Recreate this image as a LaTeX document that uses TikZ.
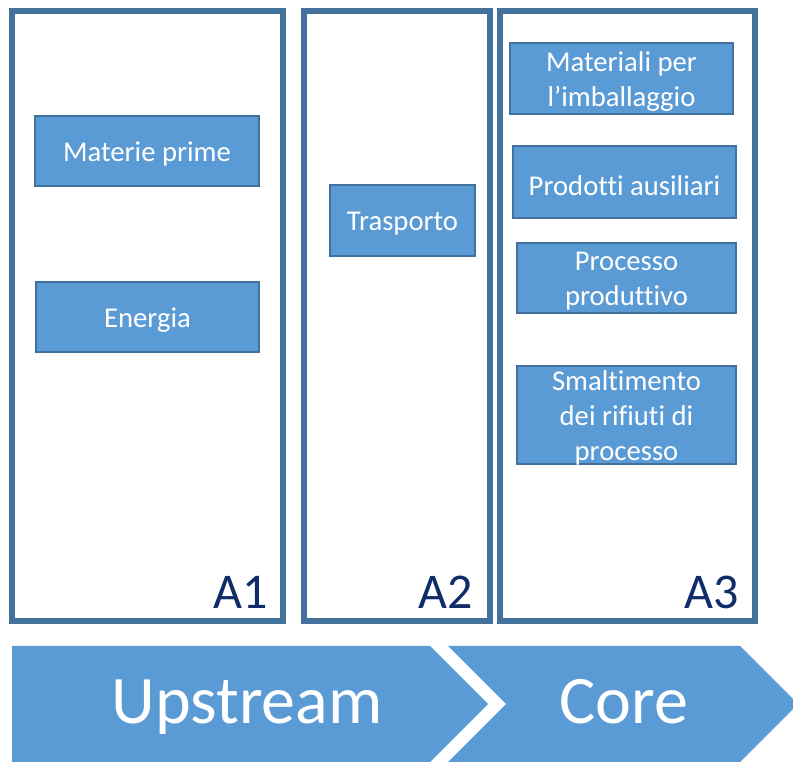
\documentclass[tikz,border=0pt]{standalone}
\usepackage{fontspec}
\setmainfont{Carlito}[Ligatures=NoCommon]
\definecolor{boxfill}{HTML}{5B9BD5}
\definecolor{boxline}{HTML}{41719C}
\definecolor{panelline}{HTML}{42719B}
\definecolor{labelcol}{HTML}{0F2D69}
\tikzset{
  panel/.style={draw=panelline, line width=6*0.75pt, fill=white, inner sep=0pt},
  itembox/.style={draw=boxline, line width=1.5*0.75pt, fill=boxfill, inner sep=0pt},
  itemtext/.style={text=white, align=center, inner sep=0pt, yshift=-2.4pt,
     font=\fontsize{21.5}{26.25}\selectfont},
  alabel/.style={text=labelcol, inner sep=0pt, anchor=base east, font=\fontsize{37.5}{40}\selectfont},
  chev/.style={fill=boxfill, draw=none},
  chevtext/.style={text=white, inner sep=0pt, anchor=base, font=\fontsize{51}{56}\selectfont}
}
\begin{document}
\begin{tikzpicture}[x=0.75pt, y=-0.75pt]
\useasboundingbox (0,0) rectangle (793,762);
\begin{scope}
\clip (0,0) rectangle (793,762);
% panels
\node[panel, minimum width=271*0.75pt, minimum height=610*0.75pt] (p1) at (147.5,316) {};
\node[panel, minimum width=186.5*0.75pt, minimum height=610*0.75pt] (p2) at (396.75,316) {};
\node[panel, minimum width=255*0.75pt, minimum height=610*0.75pt] (p3) at (627.5,316) {};
% item boxes
\node[itembox, minimum width=224*0.75pt, minimum height=70*0.75pt] (mp) at (147,151) {};
\node[itembox, minimum width=223*0.75pt, minimum height=70*0.75pt] (en) at (147.5,317) {};
\node[itembox, minimum width=145*0.75pt, minimum height=71*0.75pt] (tr) at (402.5,220.5) {};
\node[itembox, minimum width=223*0.75pt, minimum height=71*0.75pt] (mi) at (621.5,78.5) {};
\node[itembox, minimum width=223*0.75pt, minimum height=72*0.75pt] (pa) at (624.5,182) {};
\node[itembox, minimum width=219*0.75pt, minimum height=70*0.75pt] (pp) at (626.5,278) {};
\node[itembox, minimum width=219*0.75pt, minimum height=98*0.75pt] (sr) at (626.5,415) {};
% item texts
\node[itemtext] (mpt) at (mp.center) {Materie prime};
\node[itemtext] (ent) at (en.center) {Energia};
\node[itemtext] (trt) at (tr.center) {Trasporto};
\node[itemtext] (mit) at (mi.center) {Materiali per\\l’imballaggio};
\node[itemtext] (pat) at (pa.center) {Prodotti ausiliari};
\node[itemtext] (ppt) at (pp.center) {Processo\\produttivo};
\node[itemtext] (srt) at (sr.center) {Smaltimento\\dei rifiuti di\\processo};
% labels
\node[alabel] (a1) at (268,609) {A1};
\node[alabel] (a2) at (473,609) {A2};
\node[alabel] (a3) at (739,609) {A3};
% chevrons
\fill[chev] (12,646) -- (430,646) -- (488,704) -- (430,762) -- (12,762) -- cycle;
\fill[chev] (448,646) -- (740,646) -- (798,704) -- (740,762) -- (448,762) -- (506,704) -- cycle;
\node[chevtext] (up) at (247,724) {Upstream};
\node[chevtext] (co) at (624,723) {Core};
\end{scope}
\end{tikzpicture}
\end{document}
